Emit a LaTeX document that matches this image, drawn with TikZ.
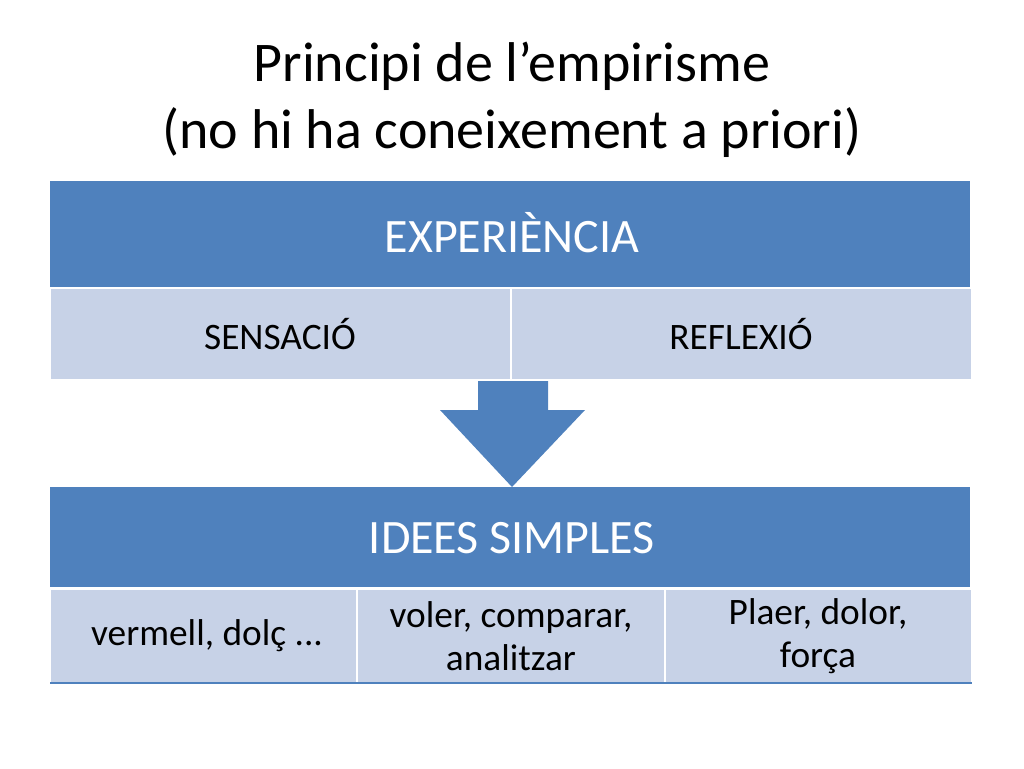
\documentclass[tikz,border=0pt]{standalone}
\usepackage{fontspec}
\setmainfont{Carlito}
\definecolor{dk}{HTML}{4F81BD}
\definecolor{lt}{HTML}{C7D2E7}
\begin{document}
\begin{tikzpicture}[x=0.75pt,y=-0.75pt,
 bar/.style={fill=dk,draw=none},
 cell/.style={fill=lt,draw=white,line width=1pt},
 big/.style={font=\fontsize{36}{40}\selectfont,white},
 sm/.style={font=\fontsize{28}{32}\selectfont,black,align=center}]
\useasboundingbox (0,0) rectangle (1024,768);
\node (t) at (512,100) [font=\fontsize{42}{50}\selectfont,align=center] {Principi de l’empirisme\\(no hi ha coneixement a priori)};
\fill[bar] (50,181) rectangle (970,287);
\node (e) at (512,233) [big] {EXPERIÈNCIA};
\draw[cell] (50,288) rectangle (511,380);
\draw[cell] (511,288) rectangle (972,380);
\node (s) at (280,334) [sm] {SENSACIÓ};
\node (r) at (741,334) [sm] {REFLEXIÓ};
\fill[dk] (478,381) -- (548,381) -- (548,410) -- (585,410) -- (512,487) -- (440,410) -- (478,410) -- cycle;
\fill[bar] (50,487) rectangle (970,587);
\node (i) at (512,538) [big] {IDEES SIMPLES};
\draw[cell] (50,589) rectangle (357,683);
\draw[cell] (357,589) rectangle (665,683);
\draw[cell] (665,589) rectangle (972,683);
\draw[dk,line width=1pt] (50,683) -- (972,683);
\node (a) at (207,636) [sm] {vermell, dolç ...};
\node (b) at (511,636) [sm] {voler, comparar,\\analitzar};
\node (c) at (818,636) [sm] {Plaer, dolor,\\força};
\end{tikzpicture}
\end{document}
